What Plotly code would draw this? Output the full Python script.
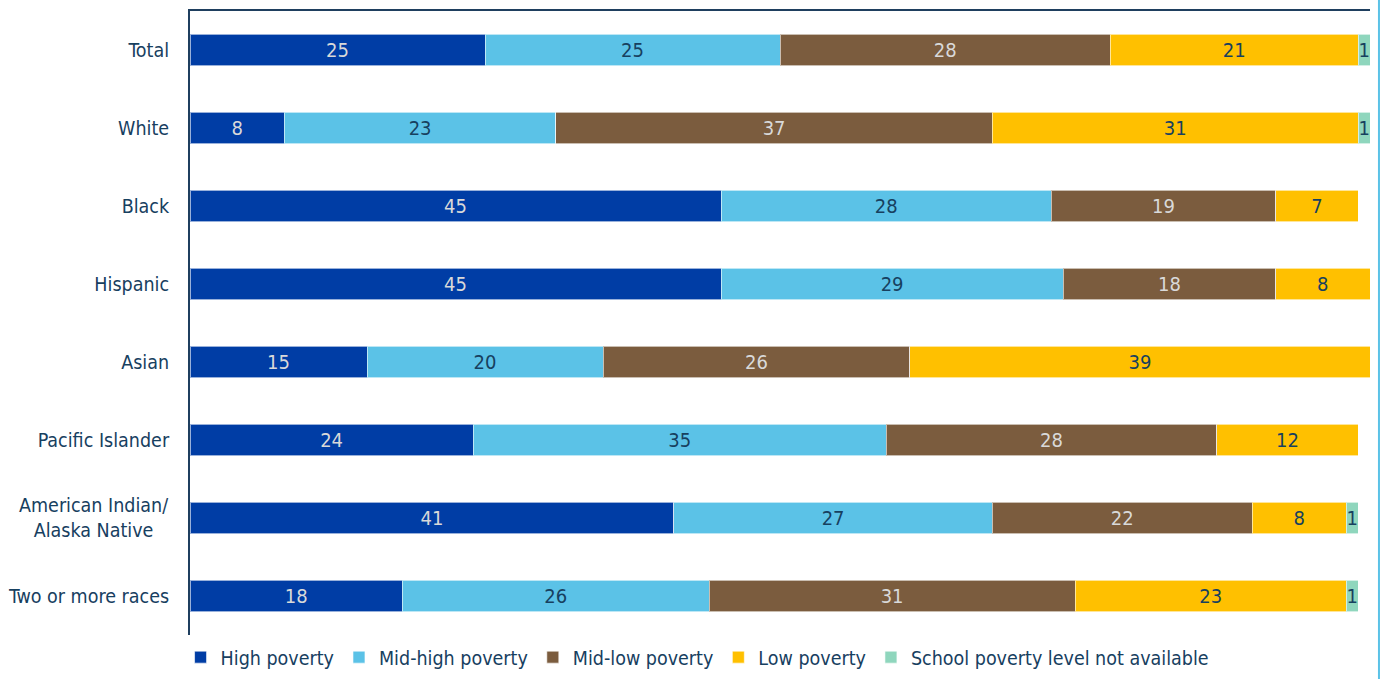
import plotly.graph_objects as go

categories = ["Total", "White", "Black", "Hispanic", "Asian", "Pacific Islander",
              "American Indian/<br>Alaska Native", "Two or more races"]
high_poverty = [25, 8, 45, 45, 15, 24, 41, 18]
mid_high_poverty = [25, 23, 28, 29, 20, 35, 27, 26]
mid_low_poverty = [28, 37, 19, 18, 26, 28, 22, 31]
low_poverty = [21, 31, 7, 8, 39, 12, 8, 23]
not_available = [1, 1, None, None, None, None, 1, 1]

series = [
    ("High poverty", high_poverty, "#003DA5", "#D9D9D9"),
    ("Mid-high poverty", mid_high_poverty, "#5BC2E7", "#17405F"),
    ("Mid-low poverty", mid_low_poverty, "#7B5C3E", "#D9D9D9"),
    ("Low poverty", low_poverty, "#FFC000", "#17405F"),
    ("School poverty level not available", not_available, "#8FD6BD", "#17405F"),
]

FONT = "Liberation Sans Narrow, Arial Narrow, DejaVu Sans Condensed, sans-serif"
NAVY = "#17405F"

fig = go.Figure()
for name, vals, color, tcolor in series:
    fig.add_trace(go.Bar(
        name=name, y=categories, x=vals, orientation="h",
        marker=dict(color=color, line=dict(color="rgba(255,255,255,0.6)", width=1)),
        text=[("" if v is None else str(v)) for v in vals],
        textposition="inside", insidetextanchor="middle",
        textfont=dict(family=FONT, size=20, color=tcolor),
        cliponaxis=False,
    ))

# multi-line labels are drawn as centred annotations; single-line ones as tick labels
ticktext = [("" if "<br>" in c else c) for c in categories]
for c in categories:
    if "<br>" in c:
        fig.add_annotation(x=0, xref="paper", y=c, yref="y", text=c, showarrow=False,
                           xanchor="right", yanchor="middle", align="center", xshift=-20,
                           font=dict(family=FONT, size=19.5, color=NAVY))

fig.update_layout(
    barmode="stack", bargap=0.6,
    width=1383, height=679,
    margin=dict(l=190, r=13, t=11, b=44, autoexpand=False),
    paper_bgcolor="white", plot_bgcolor="white",
    font=dict(family=FONT, size=20, color=NAVY),
    uniformtext=dict(minsize=20, mode="show"),
    showlegend=True,
    legend=dict(orientation="h", x=-0.008, xanchor="left", y=-0.036, yanchor="middle",
                font=dict(family=FONT, size=19.5, color=NAVY),
                itemwidth=30, traceorder="normal"),
    xaxis=dict(range=[0, 100], side="top", showline=True, linecolor="#1F3F5F", linewidth=2,
               showticklabels=False, showgrid=False, zeroline=False, ticks="",
               automargin=False),
    yaxis=dict(autorange="reversed", showline=True, linecolor="#1F3F5F", linewidth=2,
               showgrid=False, ticks="", ticklabelstandoff=15, automargin=False,
               tickmode="array", tickvals=categories, ticktext=ticktext,
               tickfont=dict(family=FONT, size=19.5, color=NAVY)),
)

fig.add_shape(type="line", xref="paper", yref="paper",
              x0=1.0076, x1=1.0076, y0=-0.0705, y1=1.0176,
              line=dict(color="#5BC2E7", width=2))

fig.write_html("out.html")
